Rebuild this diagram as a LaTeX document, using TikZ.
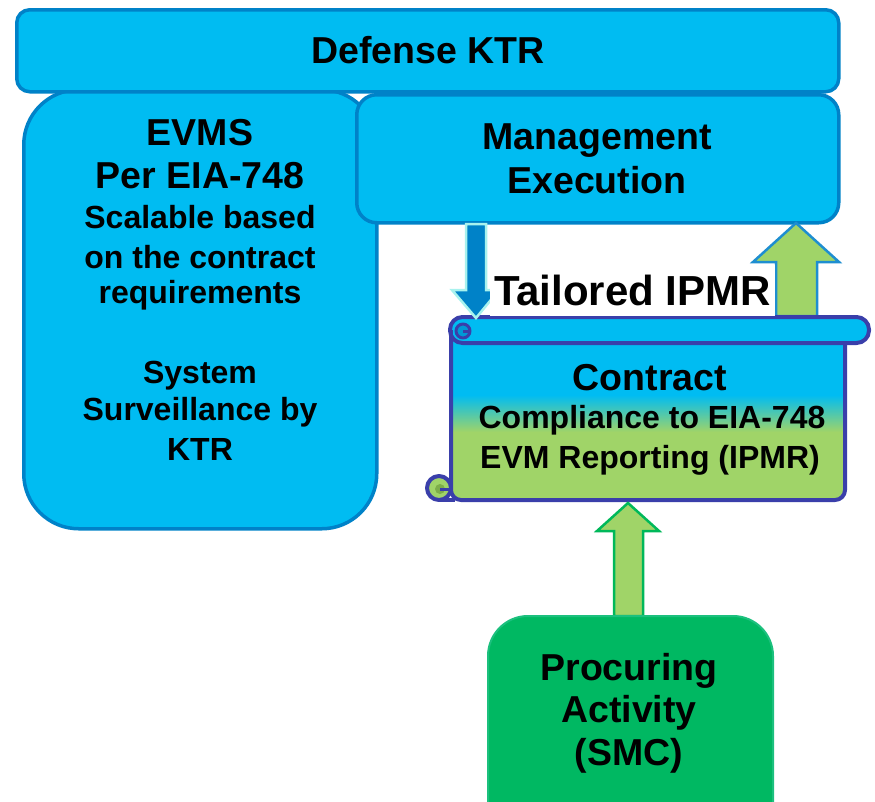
\documentclass[tikz,border=0pt]{standalone}
\usepackage{fontspec}
\setmainfont{Liberation Sans}
\definecolor{skyfill}{HTML}{00BCF2}
\definecolor{skyedge}{HTML}{0082C8}
\definecolor{scrolledge}{HTML}{3A3FAA}
\definecolor{leaf}{HTML}{A0D468}
\definecolor{leafdark}{HTML}{7DAE4A}
\definecolor{skydark}{HTML}{0099D6}
\definecolor{procfill}{HTML}{00B862}
\definecolor{procedge}{HTML}{1CC07E}
\definecolor{arrowblue}{HTML}{0082C8}
\definecolor{arrowrim}{HTML}{A8F2EE}
\definecolor{rightrim}{HTML}{1E8ED0}
\definecolor{greenrim}{HTML}{00B85A}
\tikzset{
  panel/.style={draw=skyedge, fill=skyfill, line width=3.5pt, inner sep=0pt, anchor=north west},
  head/.style={font=\fontsize{37.5}{40}\selectfont\bfseries, anchor=base, inner sep=0pt},
  sub/.style={font=\fontsize{32}{34}\selectfont\bfseries, anchor=base, inner sep=0pt},
  scrollline/.style={draw=scrolledge, line width=4pt, line join=round},
}
\begin{document}
\begin{tikzpicture}[x=1pt, y=-1pt]
\useasboundingbox (0,0) rectangle (875,801);

% left column: EVMS
\node[panel, rounded corners=55pt, minimum width=353pt, minimum height=439pt] (evms) at (22,88) {};
% management block
\node[panel, rounded corners=20pt, minimum width=482pt, minimum height=128pt] (mgmt) at (355,93) {};
% top banner
\node[panel, rounded corners=13pt, minimum width=822pt, minimum height=82pt] (ktr) at (15,8) {};

\node[head] (ktrtxt) at (428,63) {Defense KTR};
\node[head] (mg1) at (597,149) {Management};
\node[head] (mg2) at (597,193) {Execution};

\node[head] (ev1) at (200,145) {EVMS};
\node[head] (ev2) at (200,188) {Per EIA-748};
\node[sub] (ev3) at (200,228) {Scalable based};
\node[sub] (ev4) at (200,268) {on the contract};
\node[sub] (ev5) at (200,303) {requirements};
\node[sub] (ev6) at (200,383) {System};
\node[sub] (ev7) at (200,420) {Surveillance by};
\node[sub] (ev8) at (200,460) {KTR};

% upward arrow from the contract to management
\draw[fill=leaf, draw=rightrim, line width=2.5pt, line join=miter]
  (776,316) -- (776,262) -- (753,262) -- (796,223) -- (839,262) -- (817,262) -- (817,316) -- cycle;

% contract scroll: body with cyan-to-green fill
\begin{scope}
  \clip[rounded corners=10pt] (451,330) -- (451,500) -- (845,500) -- (845,330) -- cycle;
  \fill[skyfill] (440,320) rectangle (850,395);
  \shade[top color=skyfill, bottom color=leaf] (440,395) rectangle (850,432);
  \fill[leaf] (440,432) rectangle (850,505);
\end{scope}
\draw[scrollline, rounded corners=10pt] (451,330) -- (451,500) -- (845,500) -- (845,330);
% bottom-left curl
\draw[scrollline, fill=leaf] (439,488) circle[radius=12pt];
\fill[leafdark] (440,489) circle[radius=5pt];
\draw[scrollline, line width=3pt] (440,489) -- (449,489);
\draw[scrollline] (439,500) -- (455,500);
% top roll
\draw[scrollline, fill=skyfill, rounded corners=12.5pt] (450,317) rectangle (869,343);
\draw[scrollline, line width=3pt, fill=skydark] (463,331) circle[radius=7pt];
\draw[scrollline, line width=3pt] (463,331) -- (471,331);
\draw[scrollline] (451,330) -- (451,345);

% downward arrow from management to the contract
\draw[fill=arrowblue, draw=arrowrim, line width=2.5pt, line join=miter]
  (466,224) -- (486,224) -- (486,290) -- (499,290) -- (476,318) -- (452,290) -- (466,290) -- cycle;

\node[fill=white, inner sep=0pt, minimum width=285pt, minimum height=51pt,
      font=\fontsize{42}{45}\selectfont\bfseries] (tail) at (632.5,290.5) {Tailored IPMR};

\node[head] (c1) at (650,390) {Contract};
\node[sub] (c2) at (652,428) {Compliance to EIA-748};
\node[sub] (c3) at (650,468) {EVM Reporting (IPMR)};

% upward arrow from the procuring activity
\draw[fill=leaf, draw=greenrim, line width=2.5pt, line join=miter]
  (614,616) -- (614,531) -- (597,531) -- (628,503) -- (659,531) -- (643,531) -- (643,616) -- cycle;

% procuring activity
\node[draw=procedge, fill=procfill, line width=2pt, rounded corners=40pt, inner sep=0pt,
      anchor=north west, minimum width=285pt, minimum height=230pt] (proc) at (487,615) {};
\node[head] (p1) at (629,680) {Procuring};
\node[head] (p2) at (629,722) {Activity};
\node[head] (p3) at (629,765) {(SMC)};
\end{tikzpicture}
\end{document}
